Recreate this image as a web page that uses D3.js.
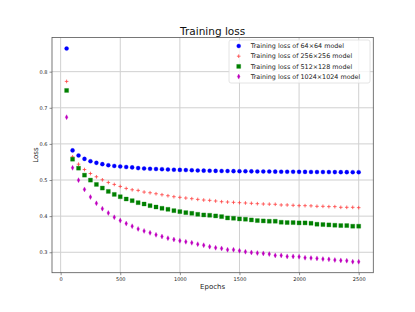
<!DOCTYPE html>
<html><head><meta charset="utf-8">
<script src="https://cdn.jsdelivr.net/npm/d3@7"></script>
<style>body{margin:0;background:#fff;} svg{display:block;font-family:"DejaVu Sans",sans-serif;}</style>
</head><body>
<svg id="c" width="415" height="312"></svg>
<script>
const epochs = d3.range(50, 2501, 50);
const loss64 = [0.864,0.582,0.568,0.5585,0.552,0.5475,0.544,0.541,0.539,0.5375,0.536,0.535,0.533,0.532,0.531,0.5305,0.530,0.5293,0.5285,0.528,0.5275,0.527,0.5265,0.526,0.5256,0.5253,0.525,0.5248,0.5246,0.5244,0.5242,0.524,0.5238,0.5236,0.5234,0.5232,0.523,0.5229,0.5228,0.5226,0.5225,0.5224,0.5222,0.5221,0.522,0.5219,0.5218,0.5218,0.5217,0.5217];
const loss256 = [0.773,0.564,0.5438,0.529,0.518,0.509,0.5006,0.4933,0.4878,0.4822,0.4767,0.473,0.4713,0.4667,0.4648,0.462,0.4593,0.4565,0.4538,0.452,0.4501,0.4483,0.4464,0.4446,0.4437,0.4419,0.440,0.4391,0.4382,0.4373,0.4364,0.4355,0.4345,0.4336,0.4332,0.4328,0.4309,0.4309,0.430,0.429,0.429,0.4285,0.4272,0.4272,0.4263,0.4263,0.4244,0.4244,0.4244,0.4235];
const loss512 = [0.748,0.5576,0.5328,0.5135,0.4997,0.4878,0.4777,0.4685,0.4602,0.4538,0.4474,0.4428,0.4373,0.4336,0.429,0.4253,0.4217,0.4189,0.4152,0.4125,0.4097,0.4079,0.4051,0.4033,0.4024,0.4006,0.3987,0.395,0.3941,0.3923,0.3914,0.3895,0.3877,0.3868,0.3859,0.3859,0.3831,0.3822,0.3822,0.3813,0.3813,0.3803,0.3776,0.3767,0.3758,0.3748,0.3739,0.3739,0.3721,0.3721];
const loss1024 = [0.674,0.5337,0.4997,0.474,0.4529,0.4355,0.4208,0.4088,0.3969,0.3877,0.3794,0.3721,0.3647,0.3592,0.3537,0.3482,0.3436,0.339,0.3353,0.3317,0.3289,0.3262,0.3225,0.3195,0.3155,0.3124,0.3106,0.3069,0.3069,0.3041,0.3014,0.2995,0.2977,0.2968,0.295,0.2913,0.2913,0.2885,0.2885,0.2876,0.2848,0.2839,0.283,0.2812,0.2803,0.2785,0.2775,0.2766,0.2738,0.2738];
const xTicks = [0,500,1000,1500,2000,2500];
const yTicks = [0.3,0.4,0.5,0.6,0.7,0.8];
const seriesNames = ["Training loss of 64\u00d764 model","Training loss of 256\u00d7256 model","Training loss of 512\u00d7128 model","Training loss of 1024\u00d71024 model"];
const seriesColors = ["#0000ff","#ff4040","#008000","#bf00bf"];
const seriesMarkers = ["circle","plus","square","thindiamond"];
const seriesValues = [loss64, loss256, loss512, loss1024];

const svg = d3.select("#c");
const L=52, R=373.3, T=37.5, B=272.7;
const x = d3.scaleLinear().domain([-72.5, 2622.5]).range([L, R]);
const y = d3.scaleLinear().domain([0.2434, 0.8946]).range([B, T]);

// grid
const g = svg.append("g");
g.selectAll(".vg").data(xTicks).join("line").attr("x1",d=>x(d)).attr("x2",d=>x(d)).attr("y1",T).attr("y2",B).attr("stroke","#d0d0d0").attr("stroke-width",1);
g.selectAll(".hg").data(yTicks).join("line").attr("y1",d=>y(d)).attr("y2",d=>y(d)).attr("x1",L).attr("x2",R).attr("stroke","#d0d0d0").attr("stroke-width",1);

// axes
const xAxis = d3.axisBottom(x).tickValues(xTicks).tickSize(2.5).tickPadding(2).tickFormat(d3.format("d"));
const yAxis = d3.axisLeft(y).tickValues(yTicks).tickSize(2.5).tickPadding(2).tickFormat(d3.format(".1f"));
const gx = svg.append("g").attr("transform",`translate(0,${B})`).call(xAxis);
const gy = svg.append("g").attr("transform",`translate(${L},0)`).call(yAxis);
[gx,gy].forEach(a=>{a.select(".domain").remove(); a.selectAll("text").attr("font-size",5).attr("fill","#222").attr("font-family","DejaVu Sans"); a.selectAll("line").attr("stroke","#444").attr("stroke-width",0.6);});

// markers
function markerPath(type){
  if(type==="circle") return d3.symbol(d3.symbolCircle, 13)();
  if(type==="square") return "M-2,-2H2V2H-2Z";
  if(type==="plus") return "M-1.8,0H1.8M0,-1.8V1.8";
  if(type==="thindiamond") return "M0,-2.5L1.35,0L0,2.5L-1.35,0Z";
}
seriesValues.forEach((vals,i)=>{
  const m = seriesMarkers[i], c = seriesColors[i];
  svg.append("g").selectAll("path").data(vals.map((v,j)=>[epochs[j],v])).join("path")
    .attr("transform",d=>`translate(${x(d[0])},${y(d[1])})`)
    .attr("d",markerPath(m))
    .attr("fill", m==="plus"?"none":c)
    .attr("stroke", c)
    .attr("stroke-width", m==="plus"?0.8:0.3);
});

// frame
svg.append("rect").attr("x",L).attr("y",T).attr("width",R-L).attr("height",B-T).attr("fill","none").attr("stroke","#555").attr("stroke-width",0.8);

// title and labels
svg.append("text").attr("x",(L+R)/2).attr("y",34.5).attr("text-anchor","middle").attr("font-size",10.5).attr("fill","#111").text("Training loss");
svg.append("text").attr("x",(L+R)/2).attr("y",288.5).attr("text-anchor","middle").attr("font-size",7).attr("fill","#222").text("Epochs");
svg.append("text").attr("transform",`translate(37.5,${(T+B)/2}) rotate(-90)`).attr("text-anchor","middle").attr("font-size",7).attr("fill","#222").text("Loss");

// legend
const lg = svg.append("g");
lg.append("rect").attr("x",229).attr("y",40).attr("width",141).attr("height",43).attr("rx",2).attr("fill","#fff").attr("fill-opacity",0.8).attr("stroke","#ddd").attr("stroke-width",0.8);
seriesNames.forEach((n,i)=>{
  const yy = 46 + i*10.2;
  lg.append("path").attr("transform",`translate(238.7,${yy})`).attr("d",markerPath(seriesMarkers[i]))
    .attr("fill", seriesMarkers[i]==="plus"?"none":seriesColors[i]).attr("stroke",seriesColors[i]).attr("stroke-width",seriesMarkers[i]==="plus"?0.8:0.3);
  lg.append("text").attr("x",250.7).attr("y",yy+2.2).attr("font-size",6.4).attr("fill","#222").text(n);
});
</script>
</body></html>
